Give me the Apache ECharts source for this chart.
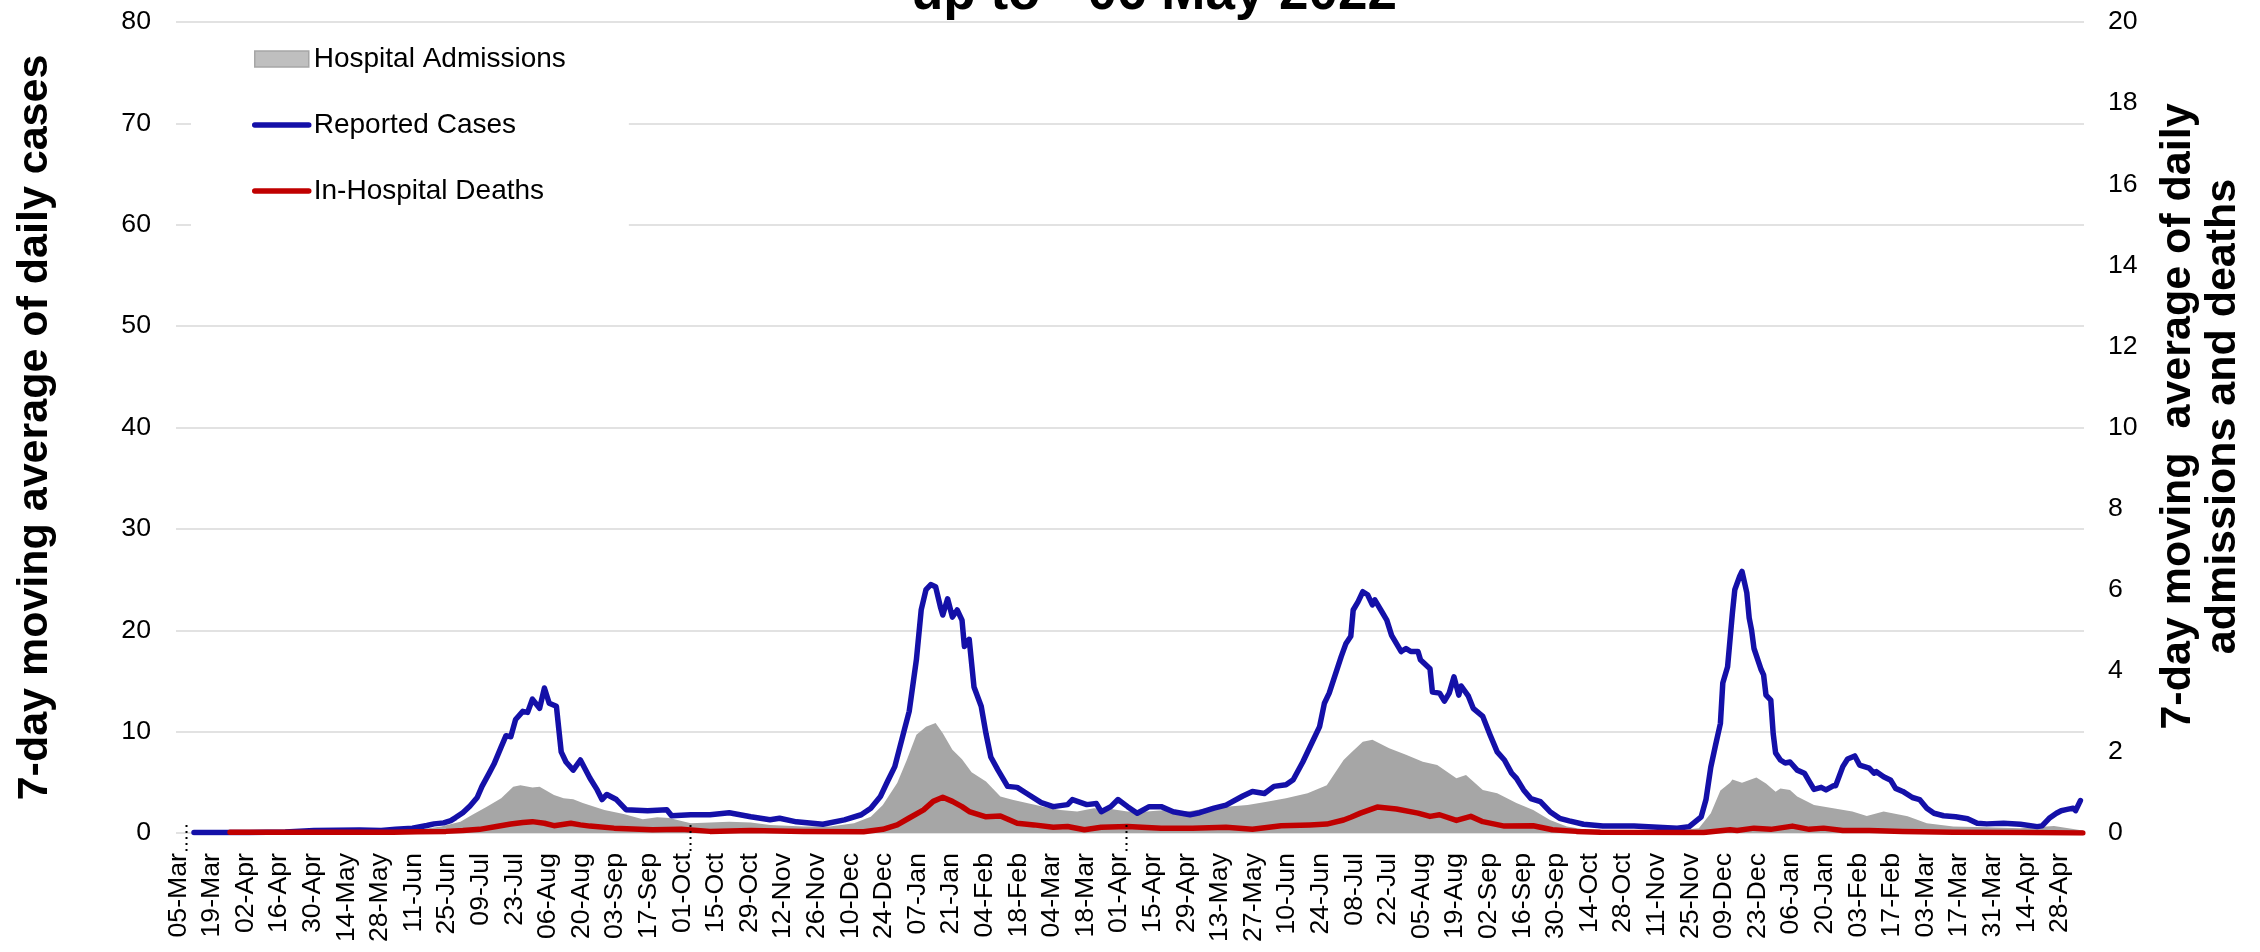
<!DOCTYPE html>
<html>
<head>
<meta charset="utf-8">
<script src="https://cdn.jsdelivr.net/npm/echarts@6/dist/echarts.min.js"></script>
<style>
  html, body { margin: 0; padding: 0; background: #ffffff; }
  #chart { width: 2260px; height: 952px; }
</style>
</head>
<body>
<div id="chart"></div>
<script>
// ---- Daily axis: one slot per day, starting 01-Mar-2020 ----
const START_YEAR = 2020, START_MONTH = 2, START_DAY = 1;
const DAY_COUNT = 795;
const MONTH_NAMES = ['Jan', 'Feb', 'Mar', 'Apr', 'May', 'Jun', 'Jul', 'Aug', 'Sep', 'Oct', 'Nov', 'Dec'];
const LABEL_FIRST_DAY = 4;    // 05-Mar-2020
const LABEL_STEP_DAYS = 14;
const MARKER_DAYS = [4, 214, 396]; // 05-Mar-2020, 01-Oct-2020, 01-Apr-2021

// ---- Reported cases, 7-day moving average (left axis) ----
const casesDay = [7, 20, 30, 45, 57, 76, 85, 91, 98, 104, 107, 111, 114, 116, 119, 122, 125, 127, 130, 132,
  135, 137, 139, 141, 144, 146, 148, 151, 153, 155, 158, 160, 162, 165, 168, 172, 175, 177, 179, 183,
  187, 196, 204, 206, 214, 222, 230, 239, 247, 251, 258, 269, 278, 285, 289, 293, 296, 299, 303, 305,
  308, 310, 312, 314, 316, 318, 319, 321, 323, 325, 327, 328, 330, 332, 335, 337, 339, 342, 346, 350,
  354, 360, 365, 371, 373, 379, 383, 385, 389, 392, 396, 400, 405, 410, 415, 422, 426, 432, 437, 444,
  448, 453, 457, 462, 465, 469, 473, 476, 478, 480, 485, 487, 489, 490, 492, 494, 496, 498, 499, 502,
  504, 506, 510, 512, 514, 517, 518, 522, 523, 526, 528, 530, 532, 534, 535, 538, 540, 544, 547, 550,
  553, 556, 558, 561, 564, 568, 572, 576, 580, 586, 594, 607, 617, 625, 630, 635, 637, 639, 641, 643,
  644, 646, 648, 649, 651, 652, 654, 655, 656, 657, 660, 661, 662, 664, 665, 666, 668, 670, 672, 675,
  678, 680, 682, 685, 687, 690, 691, 694, 696, 699, 701, 705, 707, 708, 711, 714, 716, 719, 723, 726,
  729, 732, 736, 741, 746, 750, 754, 761, 768, 775, 777, 780, 783, 785, 787, 790, 791, 793];
const casesVal = [0.05, 0.05, 0.05, 0.1, 0.25, 0.3, 0.25, 0.37, 0.47, 0.74, 0.9, 1.0, 1.22, 1.52, 2.0, 2.67, 3.5, 4.6, 5.9, 6.8,
  8.5, 9.6, 9.5, 11.2, 12.0, 11.9, 13.2, 12.3, 14.3, 12.8, 12.5, 8.0, 7.0, 6.2, 7.2, 5.4, 4.25, 3.3, 3.8, 3.3,
  2.3, 2.2, 2.3, 1.7, 1.8, 1.8, 2.0, 1.6, 1.3, 1.45, 1.1, 0.86, 1.3, 1.8, 2.45, 3.6, 5.1, 6.55, 10.2, 12.0,
  17.1, 22.0, 24.0, 24.5, 24.3, 22.3, 21.5, 23.1, 21.3, 22.0, 21.0, 18.4, 19.1, 14.4, 12.5, 9.8, 7.5, 6.2, 4.6, 4.5,
  3.9, 3.0, 2.6, 2.8, 3.3, 2.8, 2.9, 2.1, 2.6, 3.3, 2.6, 1.95, 2.6, 2.6, 2.1, 1.8, 2.0, 2.45, 2.75, 3.65,
  4.1, 3.9, 4.6, 4.75, 5.25, 7.0, 9.0, 10.5, 12.8, 13.8, 17.4, 18.7, 19.4, 22.0, 22.8, 23.8, 23.5, 22.5, 23.0, 21.8,
  21.0, 19.5, 17.9, 18.2, 17.9, 17.9, 17.1, 16.2, 13.9, 13.8, 13.0, 13.8, 15.4, 13.6, 14.5, 13.5, 12.3, 11.5, 9.7, 8.0,
  7.2, 5.9, 5.4, 4.25, 3.4, 3.1, 2.1, 1.45, 1.2, 0.86, 0.7, 0.7, 0.57, 0.47, 0.63, 1.6, 3.3, 6.5, 8.7, 10.8,
  14.8, 16.4, 21.7, 24.0, 25.3, 25.8, 23.7, 21.2, 20.0, 18.2, 16.1, 15.6, 13.6, 13.1, 9.8, 7.9, 7.2, 6.9, 7.0, 6.2,
  5.9, 5.1, 4.3, 4.5, 4.25, 4.65, 4.65, 6.55, 7.3, 7.6, 6.7, 6.4, 5.9, 6.05, 5.55, 5.2, 4.4, 4.1, 3.5, 3.3,
  2.45, 1.95, 1.7, 1.6, 1.4, 0.96, 0.9, 0.96, 0.86, 0.63, 0.7, 1.45, 1.95, 2.2, 2.3, 2.45, 2.2, 3.2];

// ---- Hospital admissions, 7-day moving average (right axis) ----
const admissionsDay = [14, 60, 98, 110, 118, 123, 129, 135, 140, 143, 148, 151, 157, 161, 165, 169, 178, 186, 194, 200,
  205, 214, 222, 230, 239, 247, 261, 272, 282, 289, 294, 300, 304, 308, 312, 316, 319, 323, 327, 331,
  337, 343, 348, 354, 361, 368, 375, 382, 389, 396, 404, 412, 421, 429, 437, 446, 454, 462, 471, 479,
  486, 489, 494, 498, 505, 512, 519, 525, 533, 537, 544, 550, 558, 565, 572, 579, 586, 600, 621, 634,
  639, 643, 647, 648, 652, 658, 662, 666, 668, 672, 675, 682, 690, 698, 704, 711, 721, 729, 740, 754,
  768, 782, 794];
const admissionsVal = [0.01, 0.02, 0.06, 0.16, 0.28, 0.45, 0.65, 0.86, 1.14, 1.18, 1.12, 1.14, 0.94, 0.86, 0.83, 0.74, 0.57, 0.47, 0.34, 0.39,
  0.37, 0.24, 0.26, 0.28, 0.26, 0.2, 0.16, 0.16, 0.24, 0.4, 0.69, 1.23, 1.8, 2.42, 2.62, 2.71, 2.46, 2.05, 1.82, 1.5,
  1.27, 0.9, 0.82, 0.74, 0.65, 0.57, 0.53, 0.61, 0.59, 0.53, 0.53, 0.57, 0.53, 0.61, 0.65, 0.69, 0.77, 0.86, 0.98, 1.18,
  1.8, 1.97, 2.25, 2.3, 2.09, 1.93, 1.76, 1.68, 1.35, 1.43, 1.06, 0.98, 0.74, 0.57, 0.32, 0.16, 0.09, 0.06, 0.04, 0.12,
  0.49, 1.05, 1.24, 1.32, 1.24, 1.37, 1.22, 1.02, 1.1, 1.06, 0.9, 0.69, 0.61, 0.53, 0.42, 0.53, 0.41, 0.24, 0.16, 0.14,
  0.12, 0.17, 0.06];

// ---- In-hospital deaths, 7-day moving average (right axis) ----
const deathsDay = [22, 60, 90, 100, 112, 119, 126, 133, 139, 144, 148, 153, 157, 164, 168, 172, 182, 198, 210, 222,
  239, 261, 286, 294, 300, 305, 311, 315, 319, 323, 327, 330, 337, 343, 350, 357, 365, 371, 378, 385,
  396, 410, 423, 437, 448, 460, 472, 479, 486, 489, 493, 500, 508, 517, 522, 526, 533, 539, 544, 553,
  565, 573, 583, 593, 628, 636, 642, 647, 650, 657, 664, 673, 680, 686, 694, 705, 719, 740, 768, 794];
const deathsVal = [0.02, 0.02, 0.02, 0.03, 0.04, 0.06, 0.09, 0.16, 0.22, 0.26, 0.28, 0.24, 0.18, 0.24, 0.2, 0.17, 0.12, 0.08, 0.09, 0.04,
  0.06, 0.04, 0.03, 0.09, 0.2, 0.37, 0.57, 0.78, 0.88, 0.78, 0.65, 0.53, 0.4, 0.42, 0.24, 0.2, 0.14, 0.16, 0.08, 0.14,
  0.16, 0.12, 0.12, 0.14, 0.09, 0.18, 0.2, 0.22, 0.32, 0.39, 0.49, 0.64, 0.59, 0.49, 0.41, 0.45, 0.31, 0.41, 0.28, 0.17,
  0.18, 0.08, 0.04, 0.02, 0.01, 0.01, 0.05, 0.08, 0.06, 0.12, 0.09, 0.17, 0.09, 0.12, 0.06, 0.06, 0.04, 0.02, 0.01, 0.0];

// ---- Axis ranges ----
const LEFT_MAX = 80, LEFT_STEP = 10;
const RIGHT_MAX = 20, RIGHT_STEP = 2;

const FONT = "'Liberation Sans', Arial, sans-serif";
const LINE_W = 5.5;

function buildDates() {
  const out = [];
  for (let k = 0; k < DAY_COUNT; k++) {
    const d = new Date(Date.UTC(START_YEAR, START_MONTH, START_DAY + k));
    const dd = String(d.getUTCDate()).padStart(2, '0');
    out.push(dd + '-' + MONTH_NAMES[d.getUTCMonth()]);
  }
  return out;
}
const dates = buildDates();
const pairs = (days, vals) => days.map((d, k) => [d, vals[k]]);

const chart = echarts.init(document.getElementById('chart'), null, { renderer: 'canvas' });

const lineLegendItem = (name) => ({
  name,
  itemStyle: { opacity: 0 },
  lineStyle: { width: LINE_W, cap: 'round' }
});

chart.setOption({
  animation: false,
  backgroundColor: '#ffffff',
  title: {
    text: 'up to - 06 May 2022',
    left: 911,
    top: -32,
    padding: 0,
    textStyle: { fontFamily: FONT, fontSize: 53, fontWeight: 'bold', color: '#000000' }
  },
  legend: {
    orient: 'vertical',
    left: 191,
    top: 33,
    padding: [12, 63, 28, 61],
    backgroundColor: '#ffffff',
    itemWidth: 54,
    itemHeight: 16,
    itemGap: 38,
    lineStyle: { width: LINE_W, cap: 'round' },
    textStyle: { fontFamily: FONT, fontSize: 28, color: '#000000' },
    data: [
      { name: 'Hospital Admissions', icon: 'rect',
        itemStyle: { color: '#BFBFBF', borderColor: '#A6A6A6', borderWidth: 1.5 } },
      lineLegendItem('Reported Cases'),
      lineLegendItem('In-Hospital Deaths')
    ]
  },
  grid: { left: 176, right: 176, top: 22, bottom: 119, containLabel: false, outerBoundsMode: 'none' },
  xAxis: {
    type: 'category',
    data: dates,
    boundaryGap: true,
    axisLine: { show: false },
    axisTick: { show: false },
    splitLine: { show: false },
    axisLabel: {
      interval: (idx) => idx >= LABEL_FIRST_DAY && (idx - LABEL_FIRST_DAY) % LABEL_STEP_DAYS === 0,
      rotate: 90,
      margin: 20,
      verticalAlign: 'bottom',
      lineHeight: 17,
      fontFamily: FONT,
      fontSize: 26.7,
      color: '#000000'
    }
  },
  yAxis: [
    {
      type: 'value',
      min: 0, max: LEFT_MAX, interval: LEFT_STEP,
      name: '7-day moving average of daily cases',
      nameLocation: 'middle',
      nameGap: 119,
      nameTextStyle: { fontFamily: FONT, fontSize: 43, fontWeight: 'bold', color: '#000000' },
      axisLine: { show: false },
      axisTick: { show: false },
      axisLabel: { margin: 25, fontFamily: FONT, fontSize: 26.7, color: '#000000' },
      splitLine: { show: true, lineStyle: { color: '#D9D9D9', width: 1.6 } }
    },
    {
      type: 'value',
      min: 0, max: RIGHT_MAX, interval: RIGHT_STEP,
      position: 'right',
      name: '7-day moving  average of daily\nadmissions and deaths',
      nameLocation: 'middle',
      nameGap: 72,
      nameTextStyle: {
        fontFamily: FONT, fontSize: 43, fontWeight: 'bold', color: '#000000',
        lineHeight: 45, padding: [0, 0, 0, 22]
      },
      axisLine: { show: false },
      axisTick: { show: false },
      axisLabel: { margin: 24, fontFamily: FONT, fontSize: 26.7, color: '#000000' },
      splitLine: { show: false }
    }
  ],
  series: [
    {
      name: 'Hospital Admissions',
      type: 'line',
      yAxisIndex: 1,
      data: pairs(admissionsDay, admissionsVal),
      showSymbol: false,
      symbol: 'none',
      itemStyle: { color: '#A6A6A6' },
      lineStyle: { width: 0 },
      areaStyle: { color: '#A6A6A6', opacity: 1 },
      z: 2
    },
    {
      name: 'Reported Cases',
      type: 'line',
      yAxisIndex: 0,
      data: pairs(casesDay, casesVal),
      showSymbol: false,
      symbol: 'none',
      itemStyle: { color: '#1410A8' },
      lineStyle: { color: '#1410A8', width: LINE_W, cap: 'round', join: 'round' },
      z: 3
    },
    {
      name: 'In-Hospital Deaths',
      type: 'line',
      yAxisIndex: 1,
      data: pairs(deathsDay, deathsVal),
      showSymbol: false,
      symbol: 'none',
      itemStyle: { color: '#C00000' },
      lineStyle: { color: '#C00000', width: LINE_W, cap: 'round', join: 'round' },
      z: 4
    }
  ]
});

// Short dotted ticks marking 05-Mar-2020, 01-Oct-2020 and 01-Apr-2021 at the start of their day slots
const baseY = chart.convertToPixel({ yAxisIndex: 0 }, 0);
const slotW = chart.convertToPixel({ xAxisIndex: 0 }, 1) - chart.convertToPixel({ xAxisIndex: 0 }, 0);
chart.setOption({
  graphic: MARKER_DAYS.map((d) => {
    const x = Math.round(chart.convertToPixel({ xAxisIndex: 0 }, d) - slotW / 2) + 0.5;
    return {
      type: 'line',
      z: 10,
      shape: { x1: x, y1: baseY - 8, x2: x, y2: baseY + 22 },
      style: { stroke: '#000000', lineWidth: 2, lineDash: [2, 4] }
    };
  })
});
</script>
</body>
</html>
